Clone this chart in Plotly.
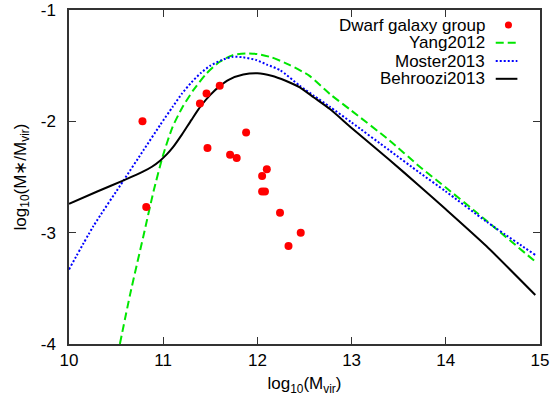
import plotly.graph_objects as go

# ---- data ----
dwarf_x = [10.78, 10.82, 11.39, 11.46, 11.60, 11.47, 11.71, 11.78, 11.88, 12.05, 12.10, 12.05, 12.08, 12.24, 12.46, 12.33]
dwarf_y = [-2.00, -2.77, -1.84, -1.75, -1.68, -2.24, -2.30, -2.33, -2.10, -2.49, -2.43, -2.63, -2.63, -2.82, -3.00, -3.12]

yang_x = [10.54, 10.65, 10.79, 10.9, 11.0, 11.1, 11.2, 11.32, 11.46, 11.6, 11.74, 11.88, 12.0, 12.15, 12.34, 12.55, 12.77, 13.0, 13.4, 13.72, 14.0, 14.3, 14.95]
yang_y = [-4.0, -3.55, -3.03, -2.62, -2.30, -2.05, -1.88, -1.72, -1.57, -1.465, -1.405, -1.39, -1.395, -1.425, -1.493, -1.59, -1.755, -1.905, -2.17, -2.405, -2.595, -2.80, -3.26]

moster_x = [10.0, 10.26, 10.58, 10.79, 10.97, 11.1, 11.2, 11.3, 11.4, 11.5, 11.62, 11.74, 11.85, 11.99, 12.1, 12.24, 12.45, 12.6, 12.77, 13.0, 13.4, 13.72, 14.0, 14.43, 14.95]
moster_y = [-3.33, -2.94, -2.53, -2.26, -2.03, -1.87, -1.75, -1.65, -1.565, -1.50, -1.45, -1.42, -1.425, -1.45, -1.49, -1.54, -1.68, -1.77, -1.87, -2.01, -2.26, -2.46, -2.63, -2.90, -3.20]

behroozi_x = [10.0, 10.3, 10.58, 10.79, 10.88, 10.97, 11.04, 11.1, 11.2, 11.3, 11.4, 11.5, 11.6, 11.7, 11.85, 12.0, 12.15, 12.3, 12.45, 12.6, 12.77, 13.0, 13.4, 13.72, 14.0, 14.43, 14.95]
behroozi_y = [-2.74, -2.63, -2.53, -2.45, -2.408, -2.351, -2.295, -2.237, -2.117, -1.987, -1.862, -1.762, -1.684, -1.625, -1.58, -1.568, -1.59, -1.635, -1.694, -1.786, -1.89, -2.06, -2.345, -2.58, -2.79, -3.12, -3.56]

legend_labels = ["Dwarf galaxy group", "Yang2012", "Moster2013", "Behroozi2013"]
x_ticks = [10, 11, 12, 13, 14, 15]
y_ticks = [-1, -2, -3, -4]

RED = "#ff0000"
GREEN = "#00e600"
BLUE = "#0000ff"
BLACK = "#000000"
FONT = "Liberation Sans, Arial, sans-serif"

fig = go.Figure()
fig.add_trace(go.Scatter(x=yang_x, y=yang_y, mode="lines", line=dict(color=GREEN, width=2, dash="8px,4px", shape="spline", smoothing=0.6), showlegend=False))
fig.add_trace(go.Scatter(x=moster_x, y=moster_y, mode="lines", line=dict(color=BLUE, width=2, dash="2px,2px", shape="spline", smoothing=0.6), showlegend=False))
fig.add_trace(go.Scatter(x=behroozi_x, y=behroozi_y, mode="lines", line=dict(color=BLACK, width=2, shape="spline", smoothing=0.6), showlegend=False))
fig.add_trace(go.Scatter(x=dwarf_x, y=dwarf_y, mode="markers", marker=dict(color=RED, size=8), showlegend=False))

# custom legend (text right-aligned, key to the right)
rows_y = [0.955, 0.902, 0.847, 0.794]
text_x = 0.887
key_x0, key_x1 = 0.906, 0.952
for lab, yy in zip(legend_labels, rows_y):
    fig.add_annotation(x=text_x, y=yy, xref="paper", yref="paper", text=lab, showarrow=False,
                       xanchor="right", yanchor="middle", font=dict(size=17, color="black", family=FONT))
fig.add_shape(type="circle", xref="paper", yref="paper", x0=0.933 - 0.0075, x1=0.933 + 0.0075,
              y0=rows_y[0] - 0.0105, y1=rows_y[0] + 0.0105, fillcolor=RED, line=dict(width=0))
for yy, col, dash in [(rows_y[1], GREEN, "8px,4px"), (rows_y[2], BLUE, "2px,2px"), (rows_y[3], BLACK, "solid")]:
    fig.add_shape(type="line", xref="paper", yref="paper", x0=key_x0, x1=key_x1, y0=yy, y1=yy,
                  line=dict(color=col, width=2, dash=dash))

axis_common = dict(showgrid=False, zeroline=False, showline=True, linecolor="#333333", linewidth=1.5,
                   mirror="ticks", ticks="inside", ticklen=7, tickwidth=1.2, tickcolor="#333333",
                   automargin=False, tickfont=dict(size=17, color="black", family=FONT))
fig.update_xaxes(range=[10, 15], tickvals=x_ticks, ticktext=[str(v) for v in x_ticks],
                 title=dict(text="log<sub>10</sub>(M<sub>vir</sub>)", font=dict(size=17, color="black", family=FONT), standoff=8),
                 **axis_common)
fig.update_yaxes(range=[-4, -1], tickvals=y_ticks, ticktext=[str(v) for v in y_ticks], ticklabelstandoff=8,
                 title=dict(text="log<sub>10</sub>(M∗/M<sub>vir</sub>)", font=dict(size=17, color="black", family=FONT), standoff=10),
                 **axis_common)

fig.update_layout(width=554, height=403, margin=dict(l=69, r=13.5, t=10, b=58.5),
                  paper_bgcolor="white", plot_bgcolor="white", font=dict(family=FONT, size=17))
fig.write_html("out.html")
